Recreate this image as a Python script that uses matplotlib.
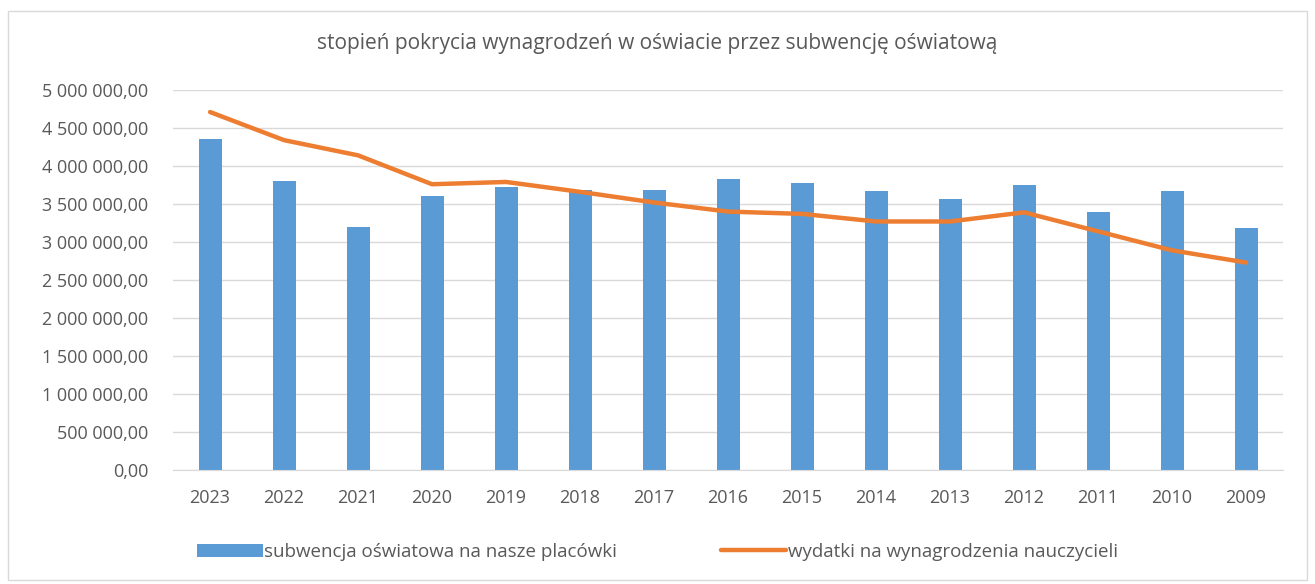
import matplotlib.pyplot as plt
import numpy as np
from matplotlib.ticker import FuncFormatter, MultipleLocator
from matplotlib.patches import Rectangle

# data
years = ['2023', '2022', '2021', '2020', '2019', '2018', '2017', '2016',
         '2015', '2014', '2013', '2012', '2011', '2010', '2009']
subwencja = [4350000, 3800000, 3200000, 3610000, 3720000, 3690000, 3690000, 3830000,
             3770000, 3670000, 3560000, 3750000, 3400000, 3670000, 3190000]
wydatki = [4710000, 4340000, 4140000, 3760000, 3790000, 3660000, 3520000, 3400000,
           3370000, 3270000, 3270000, 3390000, 3140000, 2890000, 2730000]

plt.rcParams['font.family'] = ['Open Sans', 'DejaVu Sans']
txt_col = '#595959'


def pl_format(v, pos):
    s = '{:,.2f}'.format(v)
    return s.replace(',', ' ').replace('.', ',')


fig = plt.figure(figsize=(13.15, 5.84), dpi=100)
fig.patches.append(Rectangle((0.006, 0.006), 0.988, 0.976, transform=fig.transFigure,
                             fill=False, edgecolor='#d9d9d9', linewidth=1))
ax = fig.add_axes([0.1316, 0.1952, 0.8441, 0.6507])

x = np.arange(len(years))
bars = ax.bar(x, subwencja, width=0.31, color='#5b9bd5', zorder=2)
line, = ax.plot(x, wydatki, color='#ed7d31', linewidth=3.2, solid_capstyle='round', zorder=3)

ax.set_xlim(-0.5, len(years) - 0.5)
ax.set_ylim(0, 5000000)
ax.yaxis.set_major_locator(MultipleLocator(500000))
ax.yaxis.set_major_formatter(FuncFormatter(pl_format))
ax.set_xticks(x)
ax.set_xticklabels(years)
ax.grid(axis='y', color='#d9d9d9', linewidth=1, zorder=0)
ax.set_axisbelow(True)
for s in ['top', 'right', 'left']:
    ax.spines[s].set_visible(False)
ax.spines['bottom'].set_color('#d9d9d9')
ax.tick_params(axis='both', length=0, colors=txt_col, labelsize=13)
ax.tick_params(axis='y', pad=18)
ax.tick_params(axis='x', pad=14)

fig.text(0.5, 0.925, 'stopień pokrycia wynagrodzeń w oświacie przez subwencję oświatową',
         ha='center', va='center', fontsize=15, color=txt_col)

fig.legend([bars, line], ['subwencja oświatowa na nasze placówki', 'wydatki na wynagrodzenia nauczycieli'],
           loc='center', bbox_to_anchor=(0.5, 0.055), ncol=2, frameon=False,
           fontsize=13.5, labelcolor=txt_col, handlelength=3.5, handletextpad=0.1,
           columnspacing=5.5)

fig.savefig('out.png', dpi=100)
